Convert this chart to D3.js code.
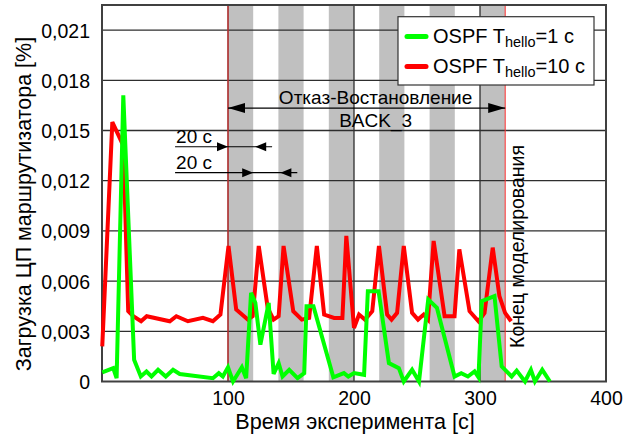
<!DOCTYPE html>
<html>
<head>
<meta charset="utf-8">
<script src="https://cdn.jsdelivr.net/npm/d3@7/dist/d3.min.js"></script>
<style>
  html, body { margin: 0; padding: 0; background: #fff; }
  svg { display: block; font-family: "Liberation Sans", Arial, sans-serif; }
</style>
</head>
<body>
<svg id="chart" width="627" height="438"></svg>
<script>
// CPU load of the router over the experiment, two OSPF hello timers
const timeGreen = [0.2, 8.9, 11.6, 16.9, 25.5, 30.8, 35.3, 39.3, 44.5, 50.6, 56.4, 61.7, 88, 92.7, 95.9, 100,
  104, 111, 114.4, 118.3, 121.7, 125.7, 132.3, 136.2, 140.2, 143.3, 148.6, 155.2, 160.5, 162.3, 167.8,
  183.6, 192, 195.5, 200, 208, 211, 219.5, 227.7, 235.6, 239.5, 246.1, 251.6, 258.9, 265.8, 279.8,
  285.1, 290.4, 295.7, 298.8, 301.4, 311.5, 317.2, 325.1, 329.1, 335.7, 340.4, 343.6, 349.4, 355.5];
const cpuGreen = [0.00055, 0.0008, 0.0002, 0.0171, 0.0013, 0.0003, 0.0006, 0.0003, 0.0007, 0.0003, 0.0007, 0.00045, 0.0002, 0.0005, 0.0003, 0.00085,
  0.0, 0.00085, 0.0002, 0.0053, 0.0047, 0.0022, 0.0047, 0.00045, 0.0011, 0.0003, 0.0007, 0.0002, 0.0005, 0.0045, 0.0045,
  0.00025, 0.0005, 0.0003, 0.0005, 0.0004, 0.0054, 0.0054, 0.0011, 0.0008, 0.0, 0.0007, 0.0, 0.0049, 0.0044, 0.0003,
  0.0005, 0.0003, 0.0006, 0.00025, 0.0048, 0.0051, 0.0009, 0.0003, 0.00065, 0.0, 0.0007, 0.0, 0.0007, 0.0];

const timeRed = [0.2, 8.2, 16.9, 20.8, 24.8, 31, 35.5, 53.8, 59, 68.2, 80.1, 88, 94, 100.4, 106.5, 115.7, 119.6,
  124.4, 131.5, 136.2, 140.2, 144.1, 151.8, 158.6, 164.4, 170.5, 176.3, 184.2, 190.8, 193.9, 200, 204, 208.7,
  214.5, 219.8, 226.3, 229.8, 234.2, 239.5, 246.1, 250.8, 255.3, 258.7, 263.2, 271.9, 279.8, 283.6, 291.7,
  298.8, 303.6, 310.1, 315.4, 319.9, 324.7];
const cpuRed = [0.0021, 0.0155, 0.0141, 0.0042, 0.0039, 0.0036, 0.0039, 0.0036, 0.0039, 0.0036, 0.0038, 0.0036, 0.0040, 0.0081, 0.0043, 0.0037, 0.0039,
  0.0081, 0.0044, 0.0037, 0.0039, 0.0081, 0.0042, 0.0037, 0.0038, 0.0081, 0.0040, 0.0038, 0.0038, 0.0087, 0.0032, 0.0040, 0.0037,
  0.0042, 0.0081, 0.0040, 0.0037, 0.0041, 0.0081, 0.0041, 0.0037, 0.0040, 0.0037, 0.0084, 0.0039, 0.0039, 0.0079, 0.0042,
  0.0036, 0.0041, 0.0080, 0.0051, 0.0041, 0.0036];

const seriesNames = ["OSPF T", "OSPF T"];
const seriesSub = ["hello", "hello"];
const seriesTail = ["=1 с", "=10 с"];

// failure / recovery windows of link BACK_3
const outageStart = [100, 140, 180, 220, 260, 300];
const outageEnd = [120, 160, 200, 240, 280, 320];
const experimentMarks = [100, 320];

const xTicks = [100, 200, 300, 400];
const yTicks = [0, 0.003, 0.006, 0.009, 0.012, 0.015, 0.018, 0.021];

const xTitle = "Время эксперимента [с]";
const yTitle = "Загрузка ЦП маршрутизатора [%]";
const spanLabel = ["Отказ-Востановление", "BACK_3"];
const endLabel = "Конец моделирования";
const stepLabel = "20 с";

const svg = d3.select("#chart");
const W = 627, H = 438;
const plot = { left: 102, right: 606, top: 5, bottom: 381.5 };

const x = d3.scaleLinear().domain([0, 400]).range([plot.left, plot.right]);
const y = d3.scaleLinear().domain([0, 0.0225]).range([plot.bottom, plot.top]);

svg.append("rect").attr("width", W).attr("height", H).attr("fill", "#fff");

// grey outage bands
svg.append("g").selectAll("rect").data(outageStart).join("rect")
  .attr("x", (d) => x(d))
  .attr("width", (d, i) => x(outageEnd[i]) - x(d))
  .attr("y", plot.top)
  .attr("height", plot.bottom - plot.top)
  .attr("fill", "#c0c0c0");

// grid
const grid = svg.append("g").attr("stroke", "#2e2e2e").attr("stroke-width", 1.3);
grid.selectAll("line.h").data(yTicks.filter((d) => d > 0)).join("line")
  .attr("class", "h")
  .attr("x1", plot.left).attr("x2", plot.right)
  .attr("y1", (d) => y(d)).attr("y2", (d) => y(d));
grid.selectAll("line.v").data(xTicks.filter((d) => d < 400)).join("line")
  .attr("class", "v")
  .attr("x1", (d) => x(d)).attr("x2", (d) => x(d))
  .attr("y1", plot.top).attr("y2", plot.bottom);

// start / end of the failure sequence
svg.append("g").selectAll("line").data(experimentMarks).join("line")
  .attr("x1", (d) => x(d)).attr("x2", (d) => x(d))
  .attr("y1", plot.top).attr("y2", plot.bottom)
  .attr("stroke", "#ff3030").attr("stroke-width", 1);

// plot frame
svg.append("rect")
  .attr("x", plot.left).attr("y", plot.top)
  .attr("width", plot.right - plot.left).attr("height", plot.bottom - plot.top)
  .attr("fill", "none").attr("stroke", "#404040").attr("stroke-width", 2);

// axes (labels only)
const fmt = d3.formatLocale({ decimal: ",", thousands: " ", grouping: [3], currency: ["", ""] }).format(".3f");
const yAxis = d3.axisLeft(y).tickValues(yTicks).tickSize(0).tickPadding(12)
  .tickFormat((d) => (d === 0 ? "0" : fmt(d)));
const xAxis = d3.axisBottom(x).tickValues(xTicks).tickSize(0).tickPadding(5)
  .tickFormat(d3.format("d"));

const gy = svg.append("g").attr("transform", `translate(${plot.left},0)`).call(yAxis);
const gx = svg.append("g").attr("transform", `translate(0,${plot.bottom})`).call(xAxis);
[gx, gy].forEach((g) => {
  g.select(".domain").remove();
  g.selectAll("text").attr("fill", "#000").attr("font-size", 19.5)
    .attr("font-family", "'Liberation Sans', Arial, sans-serif");
});
gy.selectAll("text").attr("dy", "0.36em");
gx.selectAll("text").attr("dy", "0.95em");

// series
const line = d3.line().x((d) => x(d[0])).y((d) => y(d[1]));
const redPts = timeRed.map((t, i) => [t, cpuRed[i]]);
const greenPts = timeGreen.map((t, i) => [t, cpuGreen[i]]);
svg.append("path").attr("d", line(redPts)).attr("fill", "none")
  .attr("stroke", "#ff0000").attr("stroke-width", 4).attr("stroke-linejoin", "miter");
svg.append("path").attr("d", line(greenPts)).attr("fill", "none")
  .attr("stroke", "#00ff00").attr("stroke-width", 4).attr("stroke-linejoin", "miter");

// arrowhead helper: tip at (tx, ty), dir = +1 points right, -1 points left
function arrowHead(g, tx, ty, dir, len, half) {
  g.append("path")
    .attr("d", `M${tx},${ty} L${tx - dir * len},${ty - half} L${tx - dir * len},${ty + half} Z`)
    .attr("fill", "#000");
}

const ann = svg.append("g");
// whole failure/recovery span
const spanY = 0.01634;
ann.append("line")
  .attr("x1", x(experimentMarks[0])).attr("x2", x(experimentMarks[1]))
  .attr("y1", y(spanY)).attr("y2", y(spanY))
  .attr("stroke", "#000").attr("stroke-width", 1.2);
arrowHead(ann, x(experimentMarks[0]), y(spanY), -1, 17, 5);
arrowHead(ann, x(experimentMarks[1]), y(spanY), 1, 17, 5);
const spanMid = (x(experimentMarks[0]) + x(experimentMarks[1])) / 2 + 9;
ann.append("text").attr("x", spanMid).attr("y", y(spanY) - 4)
  .attr("text-anchor", "middle").attr("font-size", 19).text(spanLabel[0]);
ann.append("text").attr("x", spanMid).attr("y", y(spanY) + 19)
  .attr("text-anchor", "middle").attr("font-size", 19).text(spanLabel[1]);

// 20 s dimension markers: failure and recovery durations
const dimY = [0.01403, 0.01248];
const dimFrom = [100, 120];
const dimTo = [120, 140];
const dimEnd = [135, 155];
const dimStart = 58;
dimY.forEach((v, i) => {
  const yy = y(v);
  ann.append("line").attr("x1", x(dimStart)).attr("x2", x(dimEnd[i]))
    .attr("y1", yy).attr("y2", yy).attr("stroke", "#000").attr("stroke-width", 1.2);
  arrowHead(ann, x(dimFrom[i]), yy, 1, 11, 4.5);
  arrowHead(ann, x(dimTo[i]) + 2, yy, -1, 11, 4.5);
  ann.append("text").attr("x", x(dimStart) + 1).attr("y", yy - 4)
    .attr("font-size", 19).text(stepLabel);
});

// end-of-simulation label
svg.append("text")
  .attr("transform", `translate(${x(experimentMarks[1]) + 12},${y(0.00807)}) rotate(-90)`)
  .attr("text-anchor", "middle").attr("dominant-baseline", "central")
  .attr("font-size", 19.5).text(endLabel);

// axis titles
svg.append("text").attr("x", 355).attr("y", 429)
  .attr("text-anchor", "middle").attr("font-size", 21.6).text(xTitle);
svg.append("text")
  .attr("transform", `translate(24,204) rotate(-90)`)
  .attr("text-anchor", "middle").attr("dominant-baseline", "central")
  .attr("font-size", 21.5).text(yTitle);

// legend
const legend = svg.append("g");
legend.append("rect").attr("x", 398).attr("y", 16.7).attr("width", 196).attr("height", 68.3)
  .attr("fill", "#fff").attr("stroke", "#333").attr("stroke-width", 1.2);
const legendColors = ["#00ff00", "#ff0000"];
seriesNames.forEach((name, i) => {
  const ly = 36.5 + i * 30;
  legend.append("line").attr("x1", 407).attr("x2", 426).attr("y1", ly).attr("y2", ly)
    .attr("stroke", legendColors[i]).attr("stroke-width", 5).attr("stroke-linecap", "round");
  const t = legend.append("text").attr("x", 433).attr("y", ly + 6.5).attr("font-size", 20);
  t.append("tspan").text(name);
  t.append("tspan").attr("font-size", 14.5).attr("dy", 4).text(seriesSub[i]);
  t.append("tspan").attr("dy", -4).text(seriesTail[i]);
});
</script>
</body>
</html>
